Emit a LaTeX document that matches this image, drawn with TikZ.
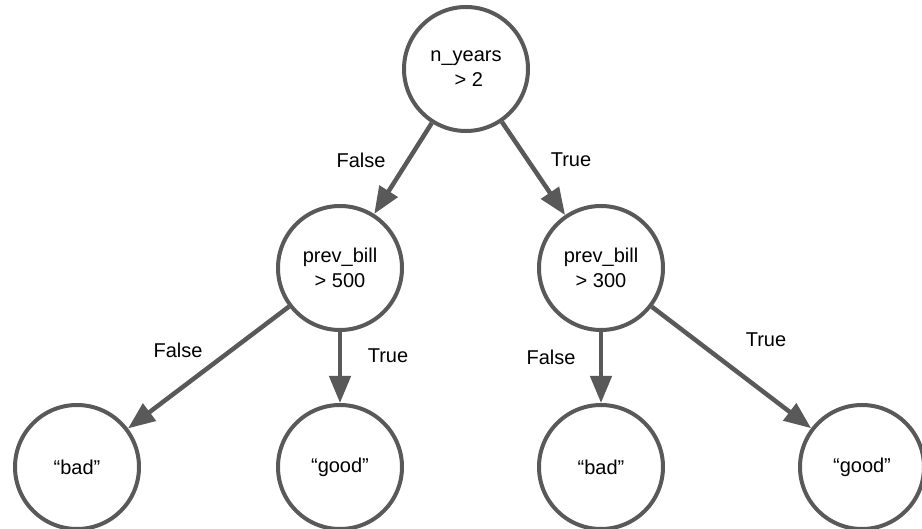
\documentclass[tikz,border=0pt]{standalone}
\usepackage{fontspec}
\setmainfont{Liberation Sans}
\usetikzlibrary{arrows.meta}
\definecolor{ln}{HTML}{595959}
\tikzset{
  tn/.style={circle, draw=ln, line width=4pt, minimum size=124pt, inner sep=0pt, align=center, font=\fontsize{20}{25}\selectfont},
  ar/.style={draw=ln, line width=4.5pt, -{Triangle[length=27pt,width=21pt]}},
  lb/.style={font=\fontsize{20}{24}\selectfont, inner sep=0pt}
}
\begin{document}
\begin{tikzpicture}[x=1pt,y=-1pt]
\useasboundingbox (0,0) rectangle (922,529);
\node[tn] (root) at (466,69) {n\_years\\ \ > 2};
\node[tn] (ml) at (340,268) {prev\_bill\\ > 500};
\node[tn] (mr) at (601,268) {prev\_bill\\ > 300};
\node[tn] (l1) at (77,467) {“bad”};
\node[tn] (l2) at (340,467) {“good”};
\node[tn] (l3) at (601,467) {“bad”};
\node[tn] (l4) at (862,467) {“good”};
\draw[ar] (root) -- (ml);
\draw[ar] (root) -- (mr);
\draw[ar] (ml) -- (l1);
\draw[ar] (ml) -- (l2);
\draw[ar] (mr) -- (l3);
\draw[ar] (mr) -- (l4);
\node[lb] (f1) at (361,160) {False};
\node[lb] (t1) at (571,160) {True};
\node[lb] (f2) at (178,350) {False};
\node[lb] (t2) at (388,356) {True};
\node[lb] (f3) at (551,357) {False};
\node[lb] (t3) at (766,340) {True};
\end{tikzpicture}
\end{document}
